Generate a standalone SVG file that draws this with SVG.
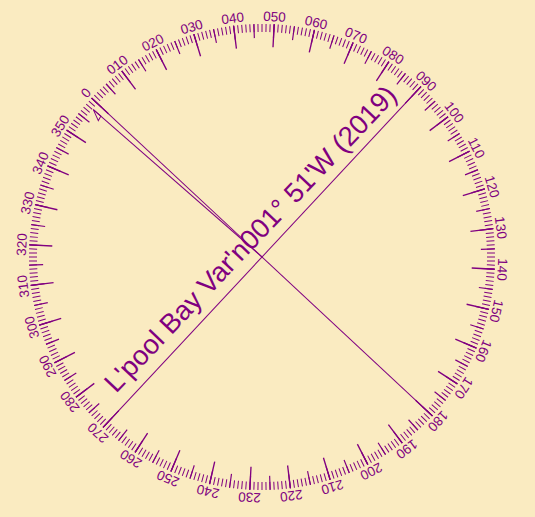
<svg xmlns="http://www.w3.org/2000/svg" width="535" height="517" viewBox="0 0 535 517">
<style>
.bg{fill:#FAEBC1}
.tick{fill:none;stroke:#800080}
.ln{stroke:#800080;stroke-width:1;fill:none}
.lbl{font-family:"Liberation Sans",Arial,sans-serif;font-size:13.5px;fill:#800080;text-anchor:middle}
.title{font-family:"Liberation Sans",Arial,sans-serif;font-size:27.5px;fill:#800080}
</style>
<rect class="bg" x="0" y="0" width="535" height="517"/>
<g id="rose" transform="translate(262,257) rotate(-47)">
<g id="ticks">
<circle class="tick" r="229" stroke-width="8" pathLength="360" stroke-dasharray="0.25 0.75" stroke-dashoffset="0.125"/>
<circle class="tick" r="226" stroke-width="14" pathLength="360" stroke-dasharray="0.3 4.7" stroke-dashoffset="0.15"/>
<circle class="tick" r="221.5" stroke-width="23" pathLength="360" stroke-dasharray="0.35 9.65" stroke-dashoffset="0.175"/>
</g>
<g id="labels">
<text class="lbl" y="-236">0</text>
<text class="lbl" y="-236" transform="rotate(10)">010</text>
<text class="lbl" y="-236" transform="rotate(20)">020</text>
<text class="lbl" y="-236" transform="rotate(30)">030</text>
<text class="lbl" y="-236" transform="rotate(40)">040</text>
<text class="lbl" y="-236" transform="rotate(50)">050</text>
<text class="lbl" y="-236" transform="rotate(60)">060</text>
<text class="lbl" y="-236" transform="rotate(70)">070</text>
<text class="lbl" y="-236" transform="rotate(80)">080</text>
<text class="lbl" y="-236" transform="rotate(90)">090</text>
<text class="lbl" y="-236" transform="rotate(100)">100</text>
<text class="lbl" y="-236" transform="rotate(110)">110</text>
<text class="lbl" y="-236" transform="rotate(120)">120</text>
<text class="lbl" y="-236" transform="rotate(130)">130</text>
<text class="lbl" y="-236" transform="rotate(140)">140</text>
<text class="lbl" y="-236" transform="rotate(150)">150</text>
<text class="lbl" y="-236" transform="rotate(160)">160</text>
<text class="lbl" y="-236" transform="rotate(170)">170</text>
<text class="lbl" y="-236" transform="rotate(180)">180</text>
<text class="lbl" y="-236" transform="rotate(190)">190</text>
<text class="lbl" y="-236" transform="rotate(200)">200</text>
<text class="lbl" y="-236" transform="rotate(210)">210</text>
<text class="lbl" y="-236" transform="rotate(220)">220</text>
<text class="lbl" y="-236" transform="rotate(230)">230</text>
<text class="lbl" y="-236" transform="rotate(240)">240</text>
<text class="lbl" y="-236" transform="rotate(250)">250</text>
<text class="lbl" y="-236" transform="rotate(260)">260</text>
<text class="lbl" y="-236" transform="rotate(270)">270</text>
<text class="lbl" y="-236" transform="rotate(280)">280</text>
<text class="lbl" y="-236" transform="rotate(290)">290</text>
<text class="lbl" y="-236" transform="rotate(300)">300</text>
<text class="lbl" y="-236" transform="rotate(310)">310</text>
<text class="lbl" y="-236" transform="rotate(320)">320</text>
<text class="lbl" y="-236" transform="rotate(330)">330</text>
<text class="lbl" y="-236" transform="rotate(340)">340</text>
<text class="lbl" y="-236" transform="rotate(350)">350</text>
</g>
<g id="connectors">
<line class="ln" x1="0" y1="-233" x2="0" y2="233"/>
<line class="ln" x1="-233" y1="0" x2="233" y2="0"/>
<g id="variation" transform="rotate(-1.85)">
<line class="ln" x1="0" y1="0" x2="0" y2="-224"/>
<path class="ln" d="M0,-224 L-5,-213 L0,-214 Z"/>
</g>
</g>
</g>
<text id="title" class="title" transform="translate(116,394) rotate(-46.5)">L'pool Bay Var'n001° 51'W (2019)</text>
</svg>
